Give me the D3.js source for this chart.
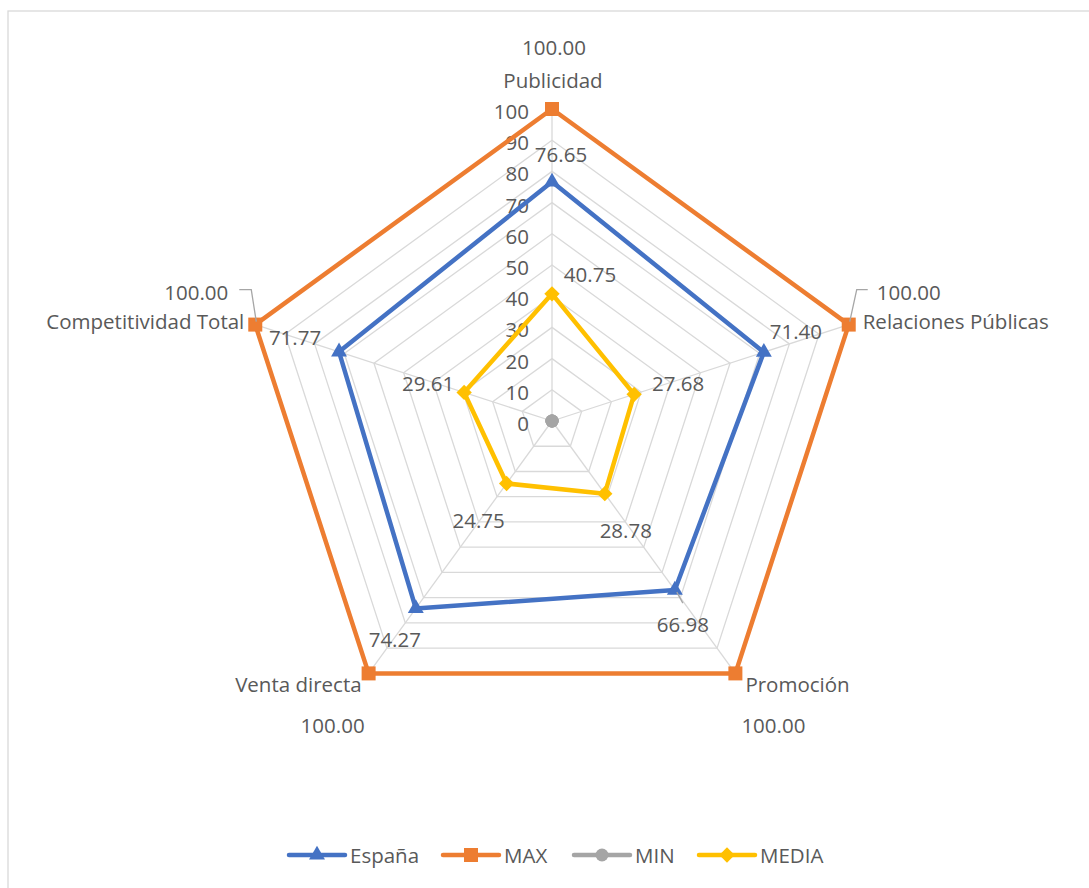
<!DOCTYPE html>
<html>
<head>
<meta charset="utf-8">
<script src="https://cdn.jsdelivr.net/npm/d3@7"></script>
<style>
  html, body { margin: 0; padding: 0; background: #fff; }
  svg { display: block; }
  text { font-family: "Open Sans", sans-serif; fill: #595959; }
</style>
</head>
<body>
<script>
// ---- data ----
const categories = ["Publicidad", "Relaciones Públicas", "Promoción", "Venta directa", "Competitividad Total"];
const espana = [76.65, 71.40, 66.98, 74.27, 71.77];
const maxVals = [100, 100, 100, 100, 100];
const minVals = [0, 0, 0, 0, 0];
const media = [40.75, 27.68, 28.78, 24.75, 29.61];
const tickValues = [0, 10, 20, 30, 40, 50, 60, 70, 80, 90, 100];
const seriesNames = ["España", "MAX", "MIN", "MEDIA"];

// ---- layout ----
const W = 1089, H = 888;
const cx = 552, cy = 421, R = 312;
const colors = { "España": "#4472C4", "MAX": "#ED7D31", "MIN": "#A5A5A5", "MEDIA": "#FFC000" };
const fontSize = 20.5;

const svg = d3.select("body").append("svg").attr("width", W).attr("height", H);
svg.append("rect").attr("x", 8).attr("y", 11).attr("width", W + 20).attr("height", H + 20)
  .attr("fill", "#fff").attr("stroke", "#d9d9d9").attr("stroke-width", 1.3);

const r = d3.scaleLinear().domain([0, 100]).range([0, R]);
const angle = d3.scalePoint().domain(categories).range([0, 2 * Math.PI * (categories.length - 1) / categories.length]);
const pt = (cat, v) => {
  const a = angle(cat) - Math.PI / 2;
  return [cx + r(v) * Math.cos(a), cy + r(v) * Math.sin(a)];
};

const g = svg.append("g");

// grid rings
tickValues.filter(t => t > 0).forEach(t => {
  g.append("polygon")
    .attr("points", categories.map(c => pt(c, t).join(",")).join(" "))
    .attr("fill", "none").attr("stroke", "#d9d9d9").attr("stroke-width", 1.3);
});
// spokes
categories.forEach(c => {
  const p = pt(c, 100);
  g.append("line").attr("x1", cx).attr("y1", cy).attr("x2", p[0]).attr("y2", p[1])
    .attr("stroke", "#d9d9d9").attr("stroke-width", 1.3);
});

// tick labels
g.selectAll("text.tick").data(tickValues).join("text")
  .attr("class", "tick")
  .attr("x", cx - 23).attr("y", d => cy - r(d) + 2)
  .attr("text-anchor", "end").attr("dominant-baseline", "central")
  .attr("font-size", fontSize).text(d => d);

// category labels
const catLab = [
  { dx: 1, dy: -29, anchor: "middle" },
  { dx: 14, dy: -4, anchor: "start" },
  { dx: 10, dy: 11, anchor: "start" },
  { dx: -7, dy: 11, anchor: "end" },
  { dx: -11, dy: -4, anchor: "end" }
];
categories.forEach((c, i) => {
  const p = pt(c, 100);
  g.append("text").attr("x", p[0] + catLab[i].dx).attr("y", p[1] + catLab[i].dy)
    .attr("text-anchor", catLab[i].anchor).attr("dominant-baseline", "central")
    .attr("font-size", fontSize).text(c);
});

// series
const seriesData = { "España": espana, "MAX": maxVals, "MIN": minVals, "MEDIA": media };
const lineGen = d3.lineRadial().angle((d, i) => angle(categories[i])).radius(d => r(d)).curve(d3.curveLinearClosed);

function marker(sel, name, x, y) {
  const col = colors[name];
  if (name === "España") {
    sel.append("path").attr("d", d3.symbol(d3.symbolTriangle, 110)()).attr("transform", `translate(${x},${y})`).attr("fill", col);
  } else if (name === "MAX") {
    sel.append("rect").attr("x", x - 7).attr("y", y - 7).attr("width", 14).attr("height", 14).attr("fill", col);
  } else if (name === "MIN") {
    sel.append("circle").attr("cx", x).attr("cy", y).attr("r", 6.5).attr("fill", col);
  } else {
    sel.append("path").attr("d", d3.symbol(d3.symbolDiamond2, 150)()).attr("transform", `translate(${x},${y})`).attr("fill", col);
  }
}

seriesNames.forEach(name => {
  const vals = seriesData[name];
  const sg = g.append("g");
  sg.append("path").attr("d", lineGen(vals)).attr("transform", `translate(${cx},${cy})`)
    .attr("fill", "none").attr("stroke", colors[name]).attr("stroke-width", 4.5).attr("stroke-linejoin", "round");
  vals.forEach((v, i) => {
    const p = pt(categories[i], v);
    marker(sg, name, p[0], p[1]);
  });
});

// data labels
const labelOffsets = {
  "España": [[9, -28], [32, -21], [8, 34], [-21, 31], [-44, -15]],
  "MAX": [[2, -62], [60, -33], [38, 52], [-36, 52], [-59, -33]],
  "MEDIA": [[38, -20], [44, -11], [21, 36], [-28, 37], [-36, -9]]
};
// leader lines
const leaders = [
  { name: "MAX", i: 1, pts: [[19, -35], [8, -35], [1, -3]] },
  { name: "MAX", i: 4, pts: [[-16, -35], [-4, -35], [1, -3]] },
  { name: "España", i: 2, pts: [[2, 2], [8, 13]] }
];
leaders.forEach(l => {
  const p = pt(categories[l.i], seriesData[l.name][l.i]);
  g.append("polyline").attr("points", l.pts.map(o => [p[0] + o[0], p[1] + o[1]].join(",")).join(" "))
    .attr("fill", "none").attr("stroke", "#a6a6a6").attr("stroke-width", 1.3);
});
Object.keys(labelOffsets).forEach(name => {
  seriesData[name].forEach((v, i) => {
    const p = pt(categories[i], v);
    const o = labelOffsets[name][i];
    g.append("text").attr("x", p[0] + o[0]).attr("y", p[1] + o[1])
      .attr("text-anchor", "middle").attr("dominant-baseline", "central")
      .attr("font-size", fontSize).text(d3.format(".2f")(v));
  });
});

// legend
const legendX = [289, 443, 574, 699];
const ly = 855;
seriesNames.forEach((name, i) => {
  const lg = svg.append("g");
  const x0 = legendX[i];
  lg.append("line").attr("x1", x0).attr("x2", x0 + 56).attr("y1", ly).attr("y2", ly)
    .attr("stroke", colors[name]).attr("stroke-width", 4.5).attr("stroke-linecap", "round");
  marker(lg, name, x0 + 28, ly);
  lg.append("text").attr("x", x0 + 61).attr("y", ly).attr("dominant-baseline", "central")
    .attr("font-size", fontSize).text(name);
});
</script>
</body>
</html>
